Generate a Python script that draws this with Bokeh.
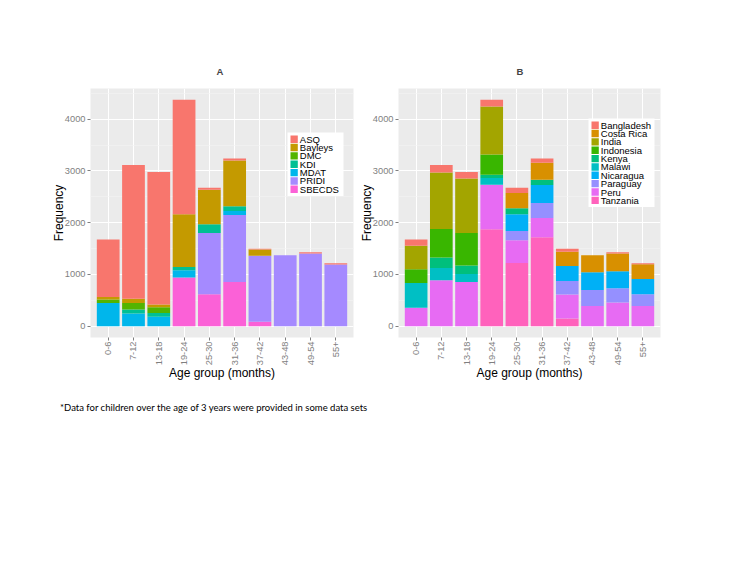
import math
from bokeh.plotting import figure
from bokeh.models import (FactorRange, Range1d, FixedTicker, Div, ColumnDataSource,
                          BoxAnnotation, Label)
from bokeh.layouts import row, column
from bokeh.embed import file_html
from bokeh.resources import INLINE

age_groups = ["0-6", "7-12", "13-18", "19-24", "25-30", "31-36", "37-42", "43-48", "49-54", "55+"]

# Panel A: frequency by assessment tool
tools = ["ASQ", "Bayleys", "DMC", "KDI", "MDAT", "PRIDI", "SBECDS"]
tool_colors = ["#F8766D", "#C49A00", "#53B400", "#00C094", "#00B6EB", "#A58AFF", "#FB61D7"]
asq     = [1110, 2582, 2557, 2213, 38, 38, 19, 0, 26, 25]
bayleys = [50, 80, 55, 1015, 669, 888, 116, 0, 0, 0]
dmc     = [65, 130, 110, 0, 0, 0, 0, 0, 0, 0]
kdi     = [0, 75, 75, 65, 168, 90, 0, 0, 0, 0]
mdat    = [450, 245, 180, 140, 0, 77, 0, 0, 0, 0]
pridi   = [0, 0, 0, 0, 1183, 1293, 1279, 1370, 1402, 1190]
sbecds  = [0, 0, 0, 940, 617, 855, 84, 0, 0, 0]

# Panel B: frequency by country
countries = ["Bangladesh", "Costa Rica", "India", "Indonesia", "Kenya", "Malawi",
             "Nicaragua", "Paraguay", "Peru", "Tanzania"]
country_colors = ["#F8766D", "#D89000", "#A3A500", "#39B600", "#00BF7D", "#00BFC4",
                  "#00B0F6", "#9590FF", "#E76BF3", "#FF62BC"]
bangladesh = [120, 141, 122, 129, 103, 83, 58, 0, 26, 19]
costa_rica = [0, 0, 0, 0, 295, 328, 276, 328, 341, 283]
india      = [456, 1093, 1055, 926, 0, 0, 0, 0, 0, 0]
indonesia  = [264, 553, 630, 392, 0, 0, 0, 0, 0, 0]
kenya      = [0, 200, 160, 64, 116, 103, 0, 0, 0, 0]
malawi     = [482, 238, 155, 129, 0, 0, 0, 0, 0, 0]
nicaragua  = [0, 0, 0, 0, 322, 348, 289, 341, 328, 296]
paraguay   = [0, 0, 0, 0, 180, 289, 264, 309, 276, 225]
peru       = [354, 887, 855, 862, 437, 373, 463, 392, 457, 392]
tanzania   = [0, 0, 0, 1871, 1222, 1717, 148, 0, 0, 0]

y_ticks = [0, 1000, 2000, 3000, 4000]
y_minor = [500, 1500, 2500, 3500, 4500]

footnote = "*Data for children over the age of 3 years were provided in some data sets"

FONT = "Liberation Sans"
FRAME_H = 249


def add_legend(p, groups, colors, left, top, box_w):
    """Compact ggplot-style legend drawn in screen units (relative to the frame)."""
    pitch = 8.35
    pad = 3
    key_w, key_h = 7.3, 7.4
    box_h = 2 * pad + pitch * len(groups) - (pitch - key_h)
    p.add_layout(BoxAnnotation(left=left, right=left + box_w, top=top, bottom=top - box_h,
                               left_units="screen", right_units="screen",
                               top_units="screen", bottom_units="screen",
                               fill_color="white", fill_alpha=1.0, line_color=None,
                               level="overlay"))
    for i, (g, c) in enumerate(zip(groups, colors)):
        k_top = top - pad - i * pitch
        p.add_layout(BoxAnnotation(left=left + pad, right=left + pad + key_w,
                                   top=k_top, bottom=k_top - key_h,
                                   left_units="screen", right_units="screen",
                                   top_units="screen", bottom_units="screen",
                                   fill_color=c, fill_alpha=1.0, line_color=None,
                                   level="overlay"))
        p.add_layout(Label(x=left + pad + key_w + 2, y=k_top - key_h / 2,
                           x_units="screen", y_units="screen", text=g,
                           text_font=FONT, text_font_size="9.5px", text_color="black",
                           text_baseline="middle", text_align="left", level="overlay"))


def make_panel(title, title_offset, groups, colors, series, width, left_border,
               right_border, leg_left, leg_top, leg_w):
    data = {"age": age_groups}
    for g, s in zip(groups, series):
        data[g] = s
    src = ColumnDataSource(data)
    totals = [sum(v) for v in zip(*series)]
    ymax = max(totals)
    p = figure(x_range=FactorRange(*age_groups, range_padding=0.2, range_padding_units="absolute"),
               y_range=Range1d(-0.05 * ymax, 1.05 * ymax),
               width=width, height=388, output_backend="svg", toolbar_location=None,
               min_border_left=left_border, min_border_right=right_border,
               min_border_top=88, min_border_bottom=51)
    stack_order = list(reversed(groups))
    stack_colors = list(reversed(colors))
    p.vbar_stack(stack_order, x="age", width=0.9, color=stack_colors,
                 line_color=None, source=src)

    p.title.text = title
    p.title.align = "left"
    p.title.offset = title_offset
    p.title.text_font = FONT
    p.title.text_font_size = "9.5px"
    p.title.text_font_style = "bold"
    p.title.standoff = 23

    p.background_fill_color = "#EBEBEB"
    p.border_fill_color = "white"
    p.outline_line_color = None

    p.xgrid.grid_line_color = "white"
    p.xgrid.grid_line_width = 1
    p.ygrid.grid_line_color = "white"
    p.ygrid.grid_line_width = 1
    p.ygrid.minor_grid_line_color = "#F4F4F4"
    p.ygrid.minor_grid_line_width = 0.6

    p.yaxis.ticker = FixedTicker(ticks=y_ticks, minor_ticks=y_minor)
    for ax in (p.xaxis, p.yaxis):
        ax.axis_line_color = None
        ax.major_tick_line_color = "#7F7F7F"
        ax.major_tick_out = 3
        ax.major_tick_in = 0
        ax.minor_tick_line_color = None
        ax.major_label_text_font = FONT
        ax.major_label_text_font_size = "9.3px"
        ax.major_label_text_color = "#7F7F7F"
        ax.major_label_standoff = 1
        ax.axis_label_text_font = FONT
        ax.axis_label_text_font_size = "12px"
        ax.axis_label_text_font_style = "normal"
        ax.axis_label_text_color = "black"
    p.xaxis.axis_label_standoff = -2
    p.yaxis.axis_label_standoff = -4
    p.xaxis.major_label_orientation = math.pi / 2
    p.xaxis.axis_label = "Age group (months)"
    p.yaxis.axis_label = "Frequency"

    add_legend(p, groups, colors, leg_left, leg_top, leg_w)
    return p


pA = make_panel("A", 126, tools, tool_colors,
                [asq, bayleys, dmc, kdi, mdat, pridi, sbecds],
                width=355, left_border=90, right_border=2,
                leg_left=197, leg_top=FRAME_H - 44, leg_w=56)
pB = make_panel("B", 118, countries, country_colors,
                [bangladesh, costa_rica, india, indonesia, kenya, malawi, nicaragua,
                 paraguay, peru, tanzania],
                width=370, left_border=43, right_border=65,
                leg_left=190, leg_top=FRAME_H - 30, leg_w=66)

note = Div(text=footnote, width=600, height=20, margin=(14, 0, 0, 60),
           styles={"font-family": "Lato", "font-size": "9.5px", "color": "black",
                   "line-height": "12px"})

layout = column(row(pA, pB, spacing=0), note, spacing=0)
open("out.html", "w").write(file_html(layout, INLINE))
